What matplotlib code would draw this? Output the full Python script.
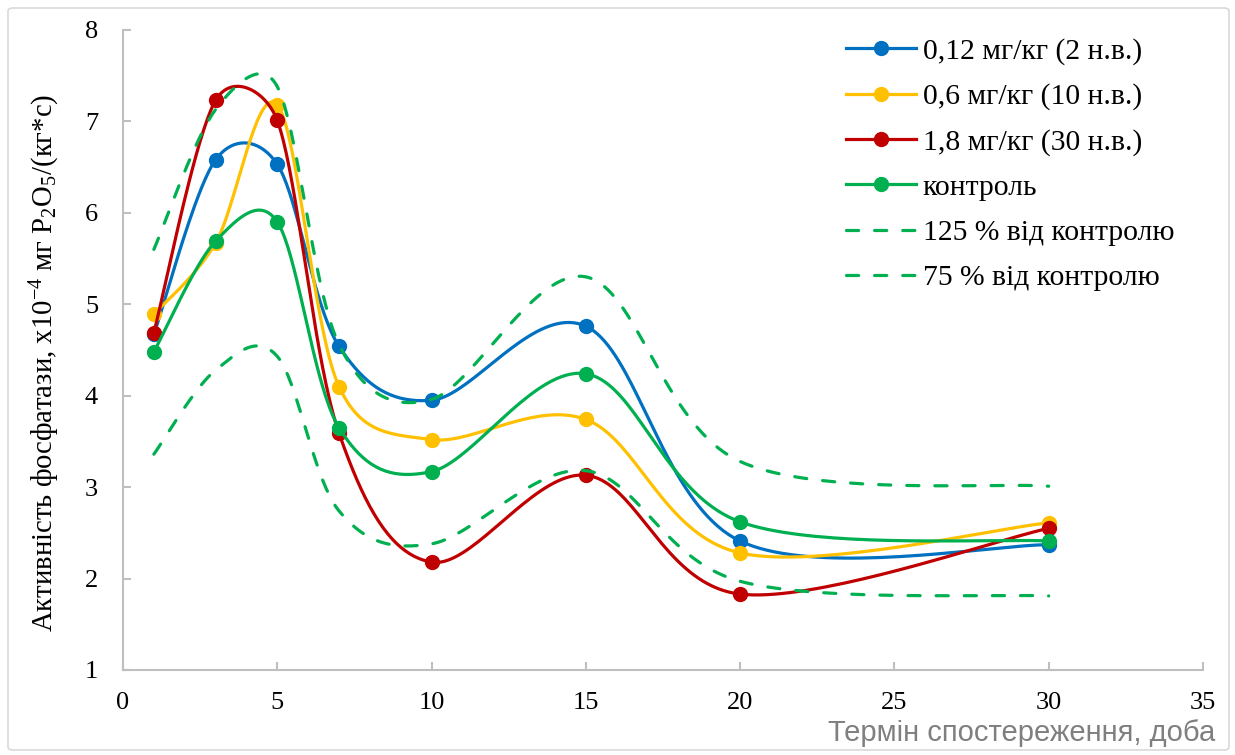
import numpy as np
import matplotlib
matplotlib.use("Agg")
import matplotlib.pyplot as plt
from matplotlib.patches import FancyBboxPatch

plt.rcParams['font.family'] = ['Liberation Serif', 'DejaVu Serif']
plt.rcParams['mathtext.fontset'] = 'custom'
plt.rcParams['mathtext.rm'] = 'Liberation Serif'
plt.rcParams['mathtext.default'] = 'regular'

# days of observation
days = [1, 3, 5, 7, 10, 15, 20, 30]

dose_012 = [4.67, 6.58, 6.53, 4.54, 3.95, 4.76, 2.41, 2.37]
dose_06 = [4.89, 5.67, 7.18, 4.10, 3.52, 3.74, 2.28, 2.61]
dose_18 = [4.69, 7.23, 7.01, 3.59, 2.18, 3.13, 1.83, 2.55]
control = [4.48, 5.69, 5.90, 3.65, 3.17, 4.24, 2.62, 2.41]
upper_125 = [5.60, 7.13, 7.38, 4.56, 3.96, 5.30, 3.28, 3.01]
lower_75 = [3.36, 4.28, 4.43, 2.74, 2.38, 3.18, 1.97, 1.81]

labels = ['0,12 мг/кг (2 н.в.)', '0,6 мг/кг (10 н.в.)', '1,8 мг/кг (30 н.в.)',
          'контроль', '125 % від контролю', '75 % від контролю']
colors = ['#0070C0', '#FFC000', '#C00000', '#00B050', '#00B050', '#00B050']

# pixels per data unit, the smoothing works in screen space
SX, SY = 30.86, 91.43


def smooth(xs, ys, n=40):
    # bezier smoothing, control arm capped at half the segment length
    p = np.column_stack([np.array(xs) * SX, np.array(ys) * SY]).astype(float)
    out = []
    for i in range(len(p) - 1):
        p0 = p[i - 1] if i > 0 else p[i]
        p3 = p[i + 2] if i + 2 < len(p) else p[i + 1]
        d12 = np.linalg.norm(p[i + 1] - p[i])
        d02 = np.linalg.norm(p[i + 1] - p0)
        d13 = np.linalg.norm(p3 - p[i])
        f = 1 / 6 if d02 / 6 < d12 / 2 else d12 / (2 * d02)
        g = 1 / 6 if d13 / 6 < d12 / 2 else d12 / (2 * d13)
        c1 = p[i] + (p[i + 1] - p0) * f
        c2 = p[i + 1] - (p3 - p[i]) * g
        t = np.linspace(0, 1, n)[:, None]
        seg = ((1 - t) ** 3 * p[i] + 3 * (1 - t) ** 2 * t * c1
               + 3 * (1 - t) * t ** 2 * c2 + t ** 3 * p[i + 1])
        out.append(seg if i == 0 else seg[1:])
    s = np.vstack(out)
    return s[:, 0] / SX, s[:, 1] / SY


fig = plt.figure(figsize=(12.35, 7.55), dpi=100)
ax = fig.add_axes([0.0996, 0.1126, 0.8745, 0.8477])

series = [dose_012, dose_06, dose_18, control]
handles = []
for ys, c, lab in zip(series, colors[:4], labels[:4]):
    sx, sy = smooth(days, ys)
    ax.plot(sx, sy, color=c, lw=2.3, solid_capstyle='round')
    ax.plot(days, ys, 'o', color=c, ms=10)
    handles.append(plt.Line2D([], [], color=c, lw=2.3, marker='o', ms=10))

for ys, c, lab in zip([upper_125, lower_75], colors[4:], labels[4:]):
    sx, sy = smooth(days, ys)
    ax.plot(sx, sy, color=c, lw=2.3, dashes=(3.8, 5.0), dash_capstyle='round')
    handles.append(plt.Line2D([], [], color=c, lw=2.3, dashes=(3.8, 5.0),
                              dash_capstyle='round'))

ax.set_xlim(0, 35)
ax.set_ylim(1, 8)
ax.set_xticks(range(0, 36, 5))
ax.set_yticks(range(1, 9))
for s in ['top', 'right']:
    ax.spines[s].set_visible(False)
for s in ['left', 'bottom']:
    ax.spines[s].set_color('#BFBFBF')
    ax.spines[s].set_linewidth(1.5)
ax.tick_params(direction='in', length=6, width=1.5, color='#BFBFBF',
               labelsize=19, labelcolor='black')
ax.tick_params(axis='y', pad=18)
ax.tick_params(axis='x', pad=16)

ax.legend(handles, labels, loc='upper left', bbox_to_anchor=(846 / 1235, 1 - 38 / 755),
          bbox_transform=fig.transFigure, frameon=False, fontsize=21.3,
          handlelength=2.35, handletextpad=0.24, labelspacing=0.62, borderpad=0,
          borderaxespad=0)

fig.text(45 / 1235, 1 - 363 / 755,
         'Активність фосфатази, x10$^{-4}$ мг P$_2$O$_5$/(кг*с)',
         rotation=90, ha='center', va='center', fontsize=20.7)
fig.text(1215 / 1235, 14 / 755, 'Термін спостереження, доба',
         ha='right', va='baseline', fontsize=21, color='#7F7F7F',
         family='Liberation Sans')

fig.patches.append(FancyBboxPatch((8 / 1235, 5 / 755), 1221 / 1235, 742 / 755,
                                  boxstyle='round,pad=0,rounding_size=0.004',
                                  transform=fig.transFigure, fill=False,
                                  edgecolor='#D9D9D9', lw=1.2))

fig.savefig('out.png', dpi=100)
